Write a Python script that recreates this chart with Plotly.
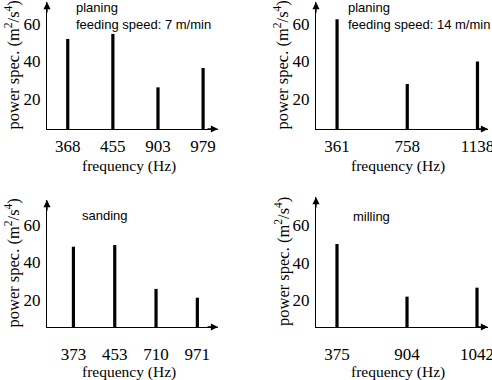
import plotly.graph_objects as go

# ---- data ----
freq_planing7 = ["368", "455", "903", "979"]
power_planing7 = [52, 54.7, 26.2, 36.5]

freq_planing14 = ["361", "758", "1138"]
power_planing14 = [62.5, 28, 40]

freq_sanding = ["373", "453", "710", "971"]
power_sanding = [48.4, 49.3, 25.9, 21.2]

freq_milling = ["375", "904", "1042"]
power_milling = [49.9, 21.8, 26.6]

y_ticks = [20, 40, 60]
panel_labels = ["planing<br>feeding speed: 7 m/min",
                "planing<br>feeding speed: 14 m/min",
                "sanding",
                "milling"]
x_title = "frequency (Hz)"
y_title = "power spec. (m<sup>2</sup>/s<sup>4</sup>)"

W, H = 492, 380
SERIF = "Liberation Serif, Times New Roman, serif"
SANS = "Liberation Sans, Arial, sans-serif"

# panel geometry in pixels
panels = [
    dict(cats=freq_planing7, vals=power_planing7, px=(47, 218), py=(2, 129),
         xr=(-0.46, 3.33), yr=(4, 71.7)),
    dict(cats=freq_planing14, vals=power_planing14, px=(316, 488), py=(2, 129),
         xr=(-0.30, 2.15), yr=(4, 71.7)),
    dict(cats=freq_sanding, vals=power_sanding, px=(47, 218), py=(200, 327),
         xr=(-0.64, 3.5), yr=(5.6, 73.3)),
    dict(cats=freq_milling, vals=power_milling, px=(316, 488), py=(197, 327),
         xr=(-0.30, 2.157), yr=(5.6, 75)),
]

fig = go.Figure()
layout = dict(width=W, height=H, margin=dict(l=0, r=0, t=0, b=0, pad=0),
              template="none", hovermode=False,
              paper_bgcolor="white", plot_bgcolor="white", showlegend=False)
annotations = []

for i, p in enumerate(panels):
    n = "" if i == 0 else str(i + 1)
    xa, ya = "x" + n, "y" + n
    x0, x1 = p["px"]
    yt, yb = p["py"]
    ppu = (x1 - x0) / (p["xr"][1] - p["xr"][0])
    fig.add_trace(go.Bar(x=p["cats"], y=p["vals"], xaxis=xa, yaxis=ya,
                         marker=dict(color="black", line=dict(width=0)),
                         width=3.2 / ppu))
    tick_gap = 2 if i < 2 else 12
    layout["xaxis" + n] = dict(domain=[x0 / W, x1 / W], anchor=ya,
                               type="category", range=list(p["xr"]),
                               automargin=False,
                               showline=True, linecolor="black", linewidth=1,
                               showgrid=False, zeroline=False,
                               ticks="outside", ticklen=tick_gap,
                               tickcolor="rgba(0,0,0,0)",
                               tickfont=dict(family=SERIF, size=17, color="black"))
    layout["yaxis" + n] = dict(domain=[1 - yb / H, 1 - yt / H], anchor=xa,
                               range=list(p["yr"]), tickvals=y_ticks,
                               automargin=False,
                               showline=True, linecolor="black", linewidth=1,
                               showgrid=False, zeroline=False,
                               ticks="outside", ticklen=2,
                               tickcolor="rgba(0,0,0,0)",
                               tickfont=dict(family=SERIF, size=17, color="black"))
    # arrows
    annotations.append(dict(xref=xa + " domain", yref=ya + " domain", x=1, y=0,
                            ax=-12, ay=0, showarrow=True, arrowhead=2,
                            arrowsize=1.1, arrowwidth=1.3, arrowcolor="black", text=""))
    annotations.append(dict(xref=xa + " domain", yref=ya + " domain", x=0, y=1,
                            ax=0, ay=12, showarrow=True, arrowhead=2,
                            arrowsize=1.1, arrowwidth=1.3, arrowcolor="black", text=""))
    # axis titles
    xt_y = 166 if i < 2 else 372
    annotations.append(dict(xref="paper", yref="paper",
                            x=((x0 + x1) / 2 - 4) / W, y=1 - xt_y / H,
                            text=x_title, showarrow=False, xanchor="center",
                            yanchor="middle",
                            font=dict(family=SERIF, size=15.5, color="black")))
    yt_x = 13 if i % 2 == 0 else 282
    annotations.append(dict(xref="paper", yref="paper",
                            x=yt_x / W, y=1 - ((yt + yb) / 2) / H,
                            text=y_title, showarrow=False, textangle=-90,
                            xanchor="center", yanchor="middle",
                            font=dict(family=SERIF, size=16.5, color="black")))

# panel labels
label_pos = [(74, -2), (346, -2), (80, 206), (351, 207)]
for (lx, ly), txt in zip(label_pos, panel_labels):
    annotations.append(dict(xref="paper", yref="paper", x=lx / W, y=1 - ly / H,
                            text=txt, showarrow=False, xanchor="left",
                            yanchor="top", align="left",
                            font=dict(family=SANS, size=13, color="black")))

layout["annotations"] = annotations
fig.update_layout(**layout)
fig.write_html("out.html", config={"displayModeBar": False},
               post_script="document.body.style.margin='0px';"
                           "document.body.style.overflow='hidden';")
